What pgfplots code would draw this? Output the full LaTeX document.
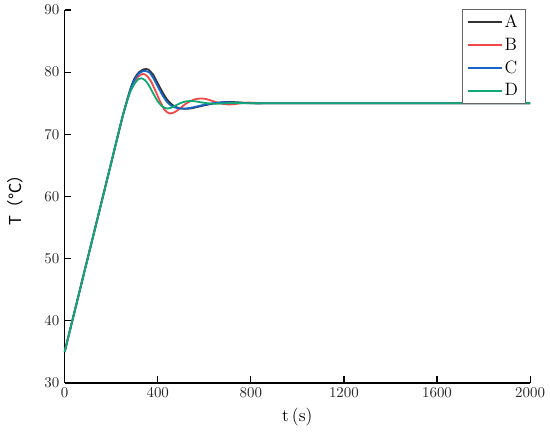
\documentclass[border=0pt]{standalone}
\usepackage{fontspec}
\usepackage{pgfplots}
\pgfplotsset{compat=1.18}
\newfontfamily\cjk{Noto Sans CJK SC}
\definecolor{cA}{HTML}{333333}
\definecolor{cB}{HTML}{F04848}
\definecolor{cC}{HTML}{1565C8}
\definecolor{cD}{HTML}{12A874}
\begin{document}
\begin{tikzpicture}
\begin{axis}[
  scale only axis, width=312pt, height=250pt,
  xmin=0, xmax=2000, ymin=30, ymax=90,
  axis x line*=bottom, axis y line*=left,
  axis line style={line width=0.8pt, black},
  xtick={0,400,800,1200,1600,2000},
  ytick={30,40,50,60,70,80,90},
  /pgf/number format/1000 sep={},
  tick align=inside, major tick length=4.5pt,
  tick style={line width=0.8pt, black},
  tick label style={font=\fontsize{10}{12}\selectfont, text=black!85},
  xlabel={t\,(s)}, ylabel={{\cjk T（℃）}},
  xlabel style={font=\fontsize{12}{14}\selectfont, at={(axis description cs:0.5,0)}, anchor=center, yshift=-23pt},
  ylabel style={font=\fontsize{11}{13}\selectfont, at={(axis description cs:0,0.5)}, anchor=center, rotate=0, yshift=33pt},
  clip=false,
  legend style={at={(rel axis cs:0.991,1.0027)}, anchor=north east,
    draw=black!60, line width=0.6pt, font=\fontsize{12}{12}\selectfont,
    inner xsep=3pt, inner ysep=1.5pt, row sep=1.5pt, cells={anchor=west},
    /tikz/every odd column/.append style={column sep=-1pt}},
  legend image code/.code={\draw[#1, line width=1.2pt] (0pt,0pt) -- (23pt,0pt);},
  every axis plot/.append style={line width=1.2pt, smooth, tension=0.4},
]
\path (rel axis cs:-0.1389,-0.144) rectangle (rel axis cs:1.0363,1.0267);
\addplot[cA] coordinates {
(0,35) (50,42.6) (100,50.2) (150,57.8) (200,65.4) (250,73.0) (280,77.0) (300,79.0)
(320,80.0) (340,80.45) (350,80.5) (360,80.4) (380,79.6) (400,78.2) (420,76.8)
(440,75.6) (460,74.8) (480,74.35) (500,74.15) (520,74.1) (540,74.15) (560,74.3)
(600,74.65) (640,74.95) (680,75.15) (700,75.2) (740,75.15) (780,75.05) (820,74.97)
(860,74.98) (900,75.0) (1400,75.0) (2000,75.0)};
\addlegendentry{A}
\addplot[cB] coordinates {
(0,35) (50,42.6) (100,50.2) (150,57.8) (200,65.4) (250,73.0) (280,76.8) (300,78.5)
(320,79.4) (337,79.7) (350,79.5) (370,78.6) (390,77.0) (410,75.3) (430,73.9)
(450,73.35) (470,73.5) (490,74.0) (520,74.9) (550,75.5) (570,75.7) (590,75.75)
(610,75.65) (640,75.3) (670,74.95) (700,74.8) (730,74.85) (760,75.0) (790,75.1)
(820,75.05) (860,74.98) (900,75.0) (1400,75.0) (2000,75.0)};
\addlegendentry{B}
\addplot[cC] coordinates {
(0,35) (50,42.6) (100,50.2) (150,57.8) (200,65.4) (250,73.0) (280,76.9) (300,78.8)
(320,79.8) (340,80.2) (350,80.15) (365,79.9) (380,79.1) (400,77.7) (420,76.3)
(440,75.2) (460,74.55) (480,74.25) (500,74.15) (520,74.15) (540,74.25) (560,74.4)
(600,74.75) (640,75.0) (680,75.15) (720,75.12) (760,75.05) (800,74.98) (860,74.98)
(900,75.0) (1400,75.0) (2000,75.0)};
\addlegendentry{C}
\addplot[cD] coordinates {
(0,35) (50,42.6) (100,50.2) (150,57.8) (200,65.4) (250,73.0) (280,76.6) (300,78.1)
(315,78.8) (330,79.0) (345,78.7) (360,78.0) (380,76.6) (400,75.3) (420,74.45)
(440,74.15) (460,74.3) (480,74.7) (500,75.05) (520,75.28) (545,75.35) (570,75.25)
(600,75.05) (640,74.92) (680,74.95) (720,75.02) (760,75.02) (800,75.0) (1400,75.0)
(2000,75.0)};
\addlegendentry{D}
\end{axis}
\end{tikzpicture}
\end{document}
